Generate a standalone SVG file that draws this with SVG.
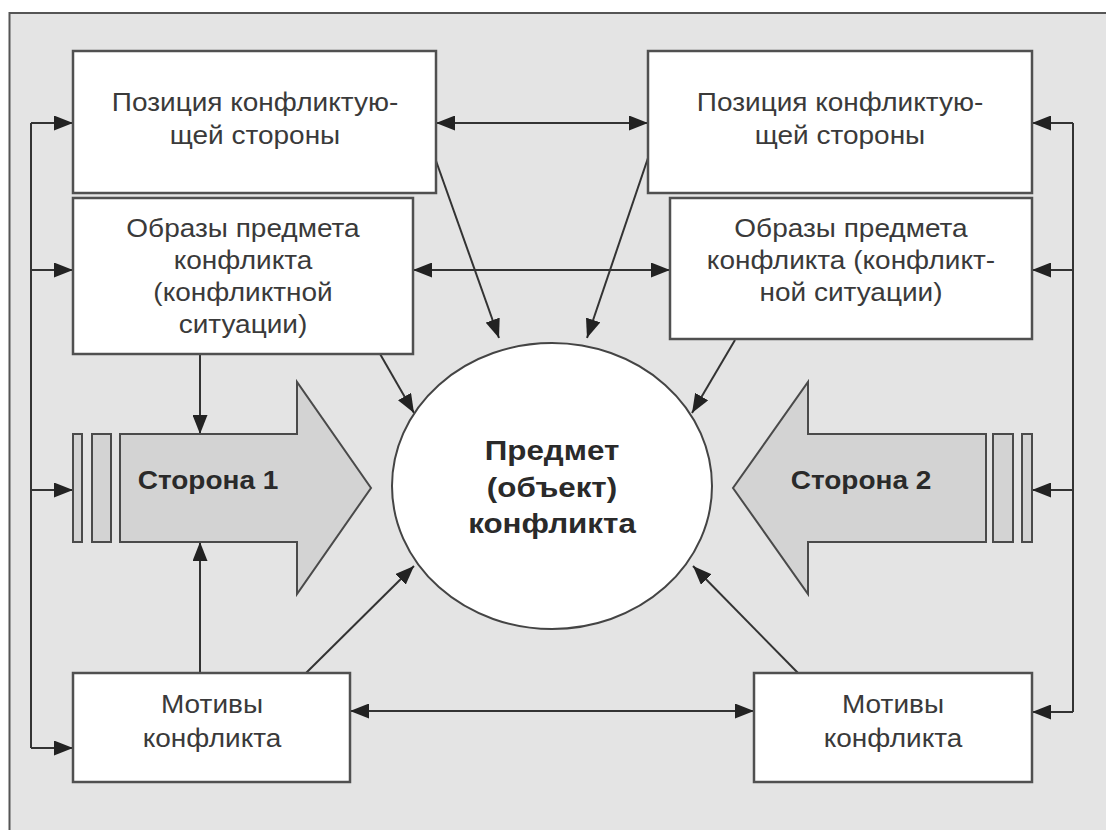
<svg xmlns="http://www.w3.org/2000/svg" width="1106" height="830" viewBox="0 0 1106 830">
<defs>
<style>
.box{fill:#fff;stroke:#505050;stroke-width:2.5}
.shape{fill:#d3d3d3;stroke:#4a4a4a;stroke-width:2}
.ln{fill:none;stroke:#333;stroke-width:2}
.t{font-family:"Liberation Sans",Arial,sans-serif;font-size:25px;fill:#3a3a3a;text-anchor:middle}
.b{font-family:"Liberation Sans",Arial,sans-serif;font-weight:bold;fill:#2a2a2a;text-anchor:middle}
</style>
<marker id="ah" viewBox="0 0 19 15" refX="19" refY="7.5" markerWidth="19" markerHeight="15" markerUnits="userSpaceOnUse" orient="auto-start-reverse">
<path d="M0,0 L19,7.5 L0,15 z" fill="#222"/>
</marker>
</defs>
<rect x="0" y="0" width="1106" height="830" fill="#fff"/>
<rect x="9.5" y="13" width="1110" height="830" fill="#e4e4e4" stroke="#555" stroke-width="2"/>

<g id="connectors">
<path class="ln" d="M31,748 V123"/>
<path class="ln" marker-end="url(#ah)" d="M31,123 H73"/>
<path class="ln" marker-end="url(#ah)" d="M31,270 H73"/>
<path class="ln" marker-end="url(#ah)" d="M31,490 H73"/>
<path class="ln" marker-end="url(#ah)" d="M31,748 H73"/>
<path class="ln" d="M1073,712 V123"/>
<path class="ln" marker-end="url(#ah)" d="M1073,123 H1032"/>
<path class="ln" marker-end="url(#ah)" d="M1073,270 H1032"/>
<path class="ln" marker-end="url(#ah)" d="M1073,490 H1032"/>
<path class="ln" marker-end="url(#ah)" d="M1073,712 H1032"/>
<path class="ln" marker-start="url(#ah)" marker-end="url(#ah)" d="M436,123 H648"/>
<path class="ln" marker-start="url(#ah)" marker-end="url(#ah)" d="M413,270 H670"/>
<path class="ln" marker-start="url(#ah)" marker-end="url(#ah)" d="M350,711 H754"/>
<path class="ln" marker-end="url(#ah)" d="M200,354 V434"/>
<path class="ln" marker-end="url(#ah)" d="M200,673 V542"/>
<path class="ln" marker-end="url(#ah)" d="M435,158 L499,338"/>
<path class="ln" marker-end="url(#ah)" d="M648,158 L587,338"/>
<path class="ln" marker-end="url(#ah)" d="M372,340 L414,413"/>
<path class="ln" marker-end="url(#ah)" d="M735,340 L692,413"/>
<path class="ln" marker-end="url(#ah)" d="M306,673 L414,566"/>
<path class="ln" marker-end="url(#ah)" d="M798,673 L693,566"/>
</g>

<g id="pos1">
<rect class="box" x="73" y="51" width="363" height="142"/>
<text class="t" transform="matrix(1.12 0 0 1 255 0)" x="0" y="111">Позиция конфликтую-</text>
<text class="t" transform="matrix(1.12 0 0 1 255 0)" x="0" y="144">щей стороны</text>
</g>
<g id="obr1">
<rect class="box" x="73" y="198" width="340" height="156"/>
<text class="t" transform="matrix(1.12 0 0 1 243 0)" x="0" y="237">Образы предмета</text>
<text class="t" transform="matrix(1.12 0 0 1 243 0)" x="0" y="269">конфликта</text>
<text class="t" transform="matrix(1.12 0 0 1 243 0)" x="0" y="301">(конфликтной</text>
<text class="t" transform="matrix(1.12 0 0 1 243 0)" x="0" y="333">ситуации)</text>
</g>
<g id="pos2">
<rect class="box" x="648" y="51" width="384" height="142"/>
<text class="t" transform="matrix(1.12 0 0 1 840 0)" x="0" y="111">Позиция конфликтую-</text>
<text class="t" transform="matrix(1.12 0 0 1 840 0)" x="0" y="144">щей стороны</text>
</g>
<g id="obr2">
<rect class="box" x="670" y="198" width="362" height="141"/>
<text class="t" transform="matrix(1.12 0 0 1 851 0)" x="0" y="237">Образы предмета</text>
<text class="t" transform="matrix(1.12 0 0 1 851 0)" x="0" y="269">конфликта (конфликт-</text>
<text class="t" transform="matrix(1.12 0 0 1 851 0)" x="0" y="301">ной ситуации)</text>
</g>
<g id="side1">
<rect class="shape" x="73" y="434" width="9" height="108"/>
<rect class="shape" x="92" y="434" width="19" height="108"/>
<polygon class="shape" points="120,434 297,434 297,382 371,488 297,594 297,542 120,542"/>
<text class="b" font-size="25" transform="matrix(1.12 0 0 1 208 0)" x="0" y="489">Сторона 1</text>
</g>
<g id="side2">
<rect class="shape" x="993" y="434" width="20" height="108"/>
<rect class="shape" x="1022" y="434" width="10" height="108"/>
<polygon class="shape" points="986,434 808,434 808,382 733,488 808,594 808,542 986,542"/>
<text class="b" font-size="25" transform="matrix(1.12 0 0 1 861 0)" x="0" y="489">Сторона 2</text>
</g>
<g id="subject">
<ellipse cx="552" cy="486" rx="160" ry="143" fill="#fff" stroke="#444" stroke-width="2"/>
<text class="b" font-size="28" transform="matrix(1.12 0 0 1 552 0)" x="0" y="460">Предмет</text>
<text class="b" font-size="28" transform="matrix(1.12 0 0 1 552 0)" x="0" y="497">(объект)</text>
<text class="b" font-size="28" transform="matrix(1.12 0 0 1 552 0)" x="0" y="533">конфликта</text>
</g>
<g id="mot1">
<rect class="box" x="73" y="673" width="277" height="109"/>
<text class="t" transform="matrix(1.12 0 0 1 212 0)" x="0" y="713">Мотивы</text>
<text class="t" transform="matrix(1.12 0 0 1 212 0)" x="0" y="747">конфликта</text>
</g>
<g id="mot2">
<rect class="box" x="754" y="673" width="278" height="109"/>
<text class="t" transform="matrix(1.12 0 0 1 893 0)" x="0" y="713">Мотивы</text>
<text class="t" transform="matrix(1.12 0 0 1 893 0)" x="0" y="747">конфликта</text>
</g>
</svg>
